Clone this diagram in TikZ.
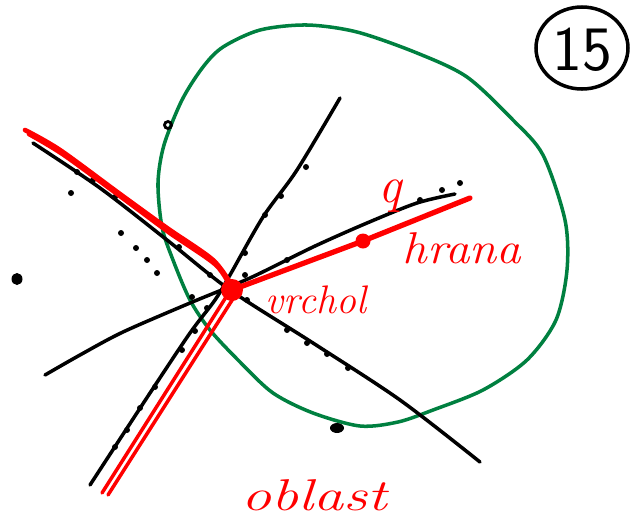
\documentclass[tikz,border=0pt]{standalone}
\usepackage{xcolor}
\usetikzlibrary{calc,positioning}
\definecolor{PureRed}{RGB}{255,0,0}
\definecolor{DarkGreen}{RGB}{0,128,64}

\tikzset{
	blackline/.style={line width=3pt, line cap=round, line join=round, black},
	redline/.style={line width=4pt, line cap=round, line join=round, PureRed},
	lbl/.style={PureRed, font=\fontsize{38}{40}\selectfont\itshape, inner sep=0pt},
}

\begin{document}
\begin{tikzpicture}[x=0.03cm, y=-0.03cm]
	\useasboundingbox (0,0) rectangle (630,518);
	
	% oblast (zelena krivka)
	\draw[line width=3pt, DarkGreen] plot[smooth cycle] coordinates {
		(203,67) (223,47) (260,30) (307,25) (357,32) (417,53) (467,77)
		(513,120) (543,155) (565,220) (567,270) (556,320) (527,360)
		(483,390) (433,410) (398,422) (360,426) (313,413) (273,393)
		(240,362) (210,330) (190,300) (173,260) (162,227) (158,183)
		(164,145) (182,100)};
	
	% cerne primky
	\draw[blackline] plot[smooth] coordinates {(33,143) (100,188) (167,240) (230,290) (313,343) (400,400) (480,462)};
	\draw[blackline] plot[smooth] coordinates {(45,375) (80,355) (123,332) (190,303) (250,278) (313,247) (367,223) (417,203) (455,194)};
	\draw[blackline] plot[smooth] coordinates {(90,485) (150,393) (190,333) (215,300) (230,275) (263,217) (297,170) (340,98)};
	
	% tecky
	\foreach \p in {(77,172),(93,180),(71,193),(115,197),(121,233),(136,248),(147,260),(157,273),
		(179,247),(210,275),(245,275),(192,297),(207,308),(195,331),(182,350),(155,387),
		(140,408),(127,430),(115,447),(247,300),(287,330),(307,343),(327,354),(348,368),
		(306,167),(281,196),(265,215),(245,253),(287,260),(420,200),(442,190),(460,183)}
		\fill \p circle (3);
	\fill (17,279) ellipse (5.5 and 6);
	\fill (337,428) ellipse (7 and 5);
	\draw[line width=2.4pt] (168,125) circle (3.5);
	
	% vrchol a hrany
	\coordinate (vrchol) at (232,290);
	\coordinate (q) at (363,241);
	\coordinate (hranaEnd) at (470,198);
	\draw[redline] plot[smooth] coordinates {(25,130) (60,150) (120,194) (167,228) (213,260) (232,286)};
	\draw[redline] plot[smooth] coordinates {(29,134) (64,155) (124,199) (170,233) (216,265) (232,290)};
	\draw[redline, line width=3pt] (228,294) -- (102,493);
	\draw[redline, line width=3pt] (236,294) -- (108,495);
	\draw[redline, line width=4.5pt] (vrchol) -- (q) -- (hranaEnd);
	\fill[PureRed] (vrchol) circle (11);
	\fill[PureRed] (q) circle (7.5);
	
	% popisky
	\node[lbl, font=\fontsize{44}{46}\selectfont\itshape] (qlabel) at (390,196) {q};
	\node[lbl, xscale=1.1] (hrana) at (462,248) {hrana};
	\node[lbl, font=\fontsize{34}{36}\selectfont\itshape] (vrcholLabel) at (316,300) {vrchol};
	\node[lbl, xscale=1.35] (oblast) at (314,495) {oblast};
	
	% cislo 15
	\draw[line width=3pt] (582,48) ellipse (46 and 41);
	\node[font=\fontsize{54}{56}\selectfont\sffamily, inner sep=0pt] (cislo) at (582,50) {15};
\end{tikzpicture}
\end{document}
